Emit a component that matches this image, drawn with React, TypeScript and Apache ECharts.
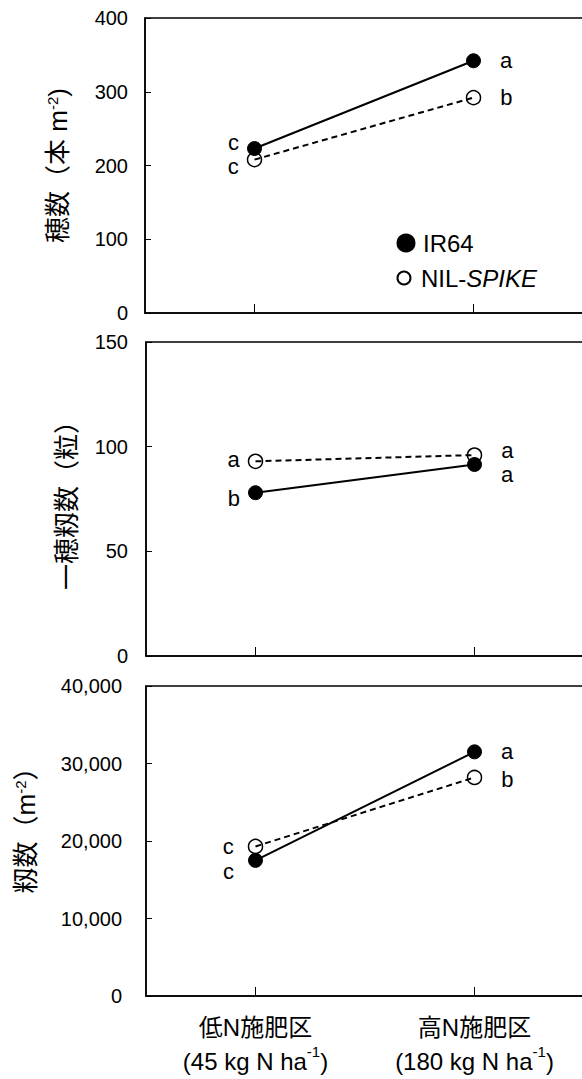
import React, { useEffect, useRef } from 'react';
import * as echarts from 'echarts';

// ---- data ----
const categories = ['低N施肥区', '高N施肥区'];
const nRates = ['45', '180'];
const seriesNames = ['IR64', 'NIL-SPIKE'];

const panicleIR64 = [223, 342];
const panicleNIL = [208, 292];
const panicleLettersIR64 = ['c', 'a'];
const panicleLettersNIL = ['c', 'b'];
const panicleTicks = [0, 100, 200, 300, 400];

const grainsIR64 = [78, 91.5];
const grainsNIL = [93, 96];
const grainsLettersIR64 = ['b', 'a'];
const grainsLettersNIL = ['a', 'a'];
const grainsTicks = [0, 50, 100, 150];

const spikeletIR64 = [17500, 31500];
const spikeletNIL = [19300, 28200];
const spikeletLettersIR64 = ['c', 'a'];
const spikeletLettersNIL = ['c', 'b'];
const spikeletTicks = [0, 10000, 20000, 30000, 40000];

const FONT = '"Liberation Sans", Arial, "Noto Sans CJK JP", sans-serif';

type Place = { position: string; distance: number; offset: number[] };

function points(values: number[], letters: string[], places: Place[]) {
  return values.map((v, i) => ({
    value: v,
    label: {
      show: true,
      formatter: letters[i],
      position: places[i].position,
      distance: places[i].distance,
      offset: places[i].offset,
      fontSize: 22,
      lineHeight: 18,
      color: '#000',
      fontFamily: FONT,
    },
  }));
}

const supRich = {
  sup: { fontSize: 15, fontFamily: FONT, color: '#000', verticalAlign: 'top', padding: [0, 0, 11, 0] },
};

function yAxis(
  ticks: number[],
  gridIndex: number,
  name: string,
  nameGap: number,
  labelMargin: number,
  namePadding: number[],
  fmt?: (v: number) => string
) {
  return {
    type: 'value',
    gridIndex,
    min: ticks[0],
    max: ticks[ticks.length - 1],
    interval: ticks[1] - ticks[0],
    name,
    nameLocation: 'middle',
    nameGap,
    nameTextStyle: { fontSize: 26, color: '#000', fontFamily: FONT, rich: supRich, padding: namePadding },
    axisLine: { show: true, lineStyle: { color: '#000', width: 1.5 } },
    axisTick: { show: true, inside: true, length: 6, lineStyle: { color: '#000', width: 1 } },
    axisLabel: {
      margin: labelMargin,
      fontSize: 20,
      color: '#000',
      fontFamily: FONT,
      formatter: fmt || ((v: number) => String(v)),
    },
    splitLine: { show: false },
  };
}

function xAxis(gridIndex: number, showLabels: boolean) {
  return {
    type: 'category',
    gridIndex,
    data: categories,
    boundaryGap: true,
    axisLine: { show: true, lineStyle: { color: '#000', width: 1.5 } },
    axisTick: { show: true, inside: true, alignWithLabel: true, length: 9, lineStyle: { color: '#000', width: 1 } },
    axisLabel: {
      show: showLabels,
      interval: 0,
      margin: 14,
      fontSize: 24,
      lineHeight: 34,
      color: '#000',
      fontFamily: FONT,
      formatter: (v: string, i: number) => `${v}\n(${nRates[i]} kg N ha{sup|-1})`,
      rich: {
        sup: { fontSize: 15, fontFamily: FONT, color: '#000', verticalAlign: 'top', padding: [0, 0, 11, 0] },
      },
    },
    splitLine: { show: false },
  };
}

function lineSeries(idx: number, solid: boolean, data: any[]) {
  return {
    type: 'line',
    name: solid ? seriesNames[0] : seriesNames[1],
    xAxisIndex: idx,
    yAxisIndex: idx,
    data,
    symbol: 'circle',
    symbolSize: 14,
    lineStyle: { color: '#000', width: 2, type: solid ? 'solid' : [6, 4] },
    itemStyle: solid
      ? { color: '#000', borderColor: '#000', borderWidth: 1 }
      : { color: 'rgba(0,0,0,0)', borderColor: '#000', borderWidth: 1.5 },
    emphasis: { disabled: true },
    z: solid ? 2 : 3,
  };
}

const L = (d: number, oy: number): Place => ({ position: 'left', distance: d, offset: [0, oy] });
const R = (d: number, oy: number): Place => ({ position: 'right', distance: d, offset: [0, oy] });

const gridBase = { show: true, borderColor: '#000', borderWidth: 1.5, outerBoundsMode: 'none', containLabel: false };

export default function App() {
  const ref = useRef<HTMLDivElement>(null);
  useEffect(() => {
    if (!ref.current) return;
    const chart = echarts.init(ref.current, undefined, { renderer: 'svg' });
    const commaFmt = (v: number) => v.toLocaleString('en-US');
    chart.setOption({
      animation: false,
      backgroundColor: '#fff',
      textStyle: { fontFamily: FONT },
      grid: [
        { ...gridBase, left: 145, top: 18, width: 438, height: 295 },
        { ...gridBase, left: 146, top: 342, width: 438, height: 314 },
        { ...gridBase, left: 146, top: 686, width: 438, height: 310 },
      ],
      xAxis: [xAxis(0, false), xAxis(1, false), xAxis(2, true)],
      yAxis: [
        yAxis(panicleTicks, 0, '穂数（本 m{sup|-2})', 74, 17, [0, 0, 0, 0]),
        yAxis(grainsTicks, 1, '一穂籾数（粒）', 66, 18, [0, 0, 0, 0]),
        yAxis(spikeletTicks, 2, '籾数（m{sup|-2}）', 107, 24, [0, 0, 0, 34], commaFmt),
      ],
      legend: [
        {
          data: [seriesNames[0]],
          left: 391.5,
          top: 226,
          icon: 'circle',
          itemWidth: 24,
          itemHeight: 17,
          selectedMode: false,
          textStyle: { fontSize: 24, color: '#000', fontFamily: FONT },
        },
        {
          data: [seriesNames[1]],
          left: 391.5,
          top: 261,
          icon: 'circle',
          itemWidth: 24,
          itemHeight: 13,
          selectedMode: false,
          formatter: () => '{n|NIL-}{i|SPIKE}',
          textStyle: {
            fontSize: 24,
            color: '#000',
            fontFamily: FONT,
            rich: {
              n: { fontSize: 24, color: '#000', fontFamily: FONT },
              i: { fontSize: 24, color: '#000', fontFamily: FONT, fontStyle: 'italic' },
            },
          },
        },
      ],
      series: [
        lineSeries(0, true, points(panicleIR64, panicleLettersIR64, [L(8, -6), R(19, 0)])),
        lineSeries(0, false, points(panicleNIL, panicleLettersNIL, [L(8, 7), R(19, 0)])),
        lineSeries(1, true, points(grainsIR64, grainsLettersIR64, [L(8, 6), R(19, 10)])),
        lineSeries(1, false, points(grainsNIL, grainsLettersNIL, [L(8, -2), R(19, -5)])),
        lineSeries(2, true, points(spikeletIR64, spikeletLettersIR64, [L(14, 11), R(19, 0)])),
        lineSeries(2, false, points(spikeletNIL, spikeletLettersNIL, [L(14, 0), R(19, 2)])),
      ],
    });
    return () => chart.dispose();
  }, []);
  return (
    <div
      ref={ref}
      style={{ position: 'absolute', left: 0, top: 0, width: 582, height: 1079 }}
    />
  );
}
